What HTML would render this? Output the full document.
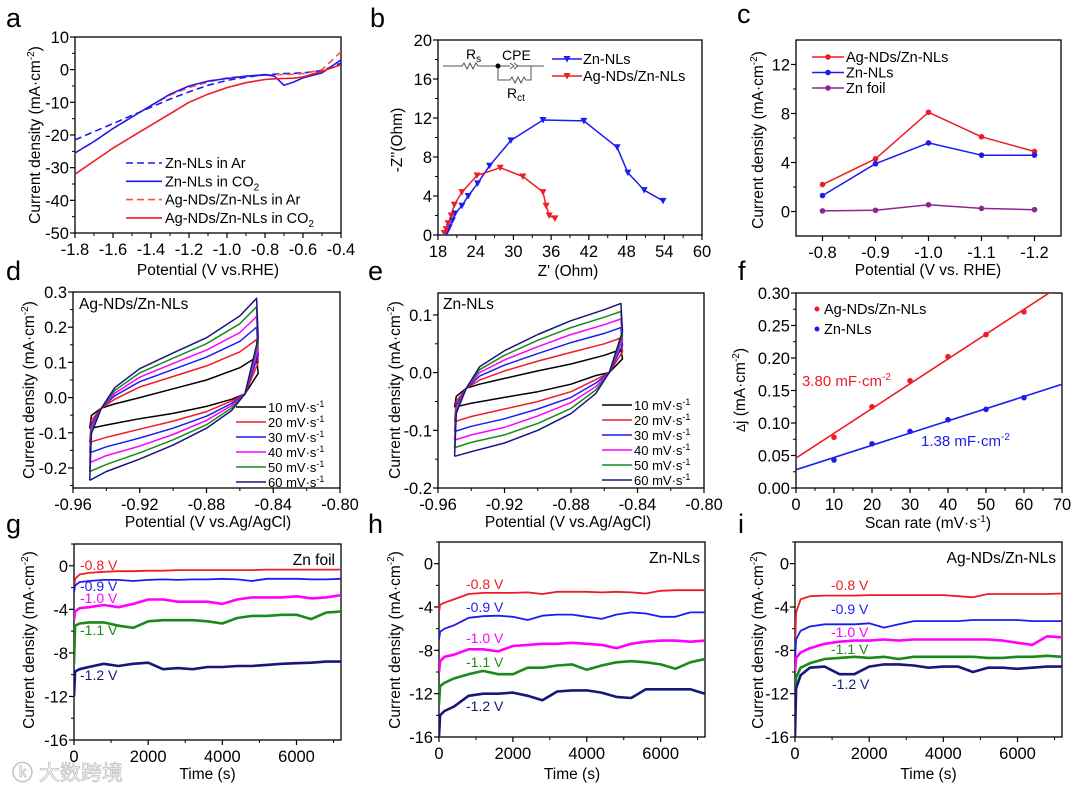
<!DOCTYPE html>
<html><head><meta charset="utf-8"><style>
html,body{margin:0;padding:0;background:#fff;}
svg{display:block;font-family:"Liberation Sans","Noto Sans CJK SC",sans-serif;}
</style></head><body>
<svg id="fig" width="1080" height="790" viewBox="0 0 1080 790"></svg>
<script>
// ---------- DATA ----------
// panel a (LSV)
const aX = [-1.8,-1.7,-1.6,-1.5,-1.4,-1.3,-1.2,-1.1,-1.0,-0.9,-0.8,-0.75,-0.7,-0.65,-0.6,-0.5,-0.4];
const aZnAr = [-21.5,-19,-16.5,-14,-11.5,-9,-6.8,-4.8,-3.3,-2.3,-1.6,-1.4,-1.2,-1.1,-1,-0.3,2];
const aZnCO2 = [-25.5,-22,-18,-14.5,-11,-7.5,-5,-3.5,-2.7,-2,-1.5,-2.0,-4.8,-3.8,-2.5,-1,3];
const aAgAr = [-25.5,-22,-18,-14.5,-11,-7.8,-5.5,-3.8,-2.5,-2,-1.7,-1.5,-1.5,-1.4,-1.2,0,5.5];
const aAgCO2 = [-32,-28,-24,-20.5,-17,-13.5,-10,-7.5,-5.5,-4,-3,-2.8,-2.7,-2.6,-2.2,-0.5,1.5];
// panel b (Nyquist)
const bZnRe = [19.2,19.5,19.8,20.3,20.7,21.8,22.8,24.3,26.2,29.6,34.7,41.2,46.5,48.2,50.8,53.8];
const bZnIm = [0.1,0.4,0.8,1.5,2.2,3,4,5.3,7.1,9.7,11.8,11.7,9,6.4,4.6,3.5];
const bAgRe = [19.0,19.3,19.6,20.1,20.6,21.8,24.2,27.9,31.5,34.7,35.2,35.7,36.6];
const bAgIm = [0.2,0.6,1.2,2,3.1,4.4,6.1,6.9,6,4.4,3,2,1.7];
// panel c
const cPot = [-0.8,-0.9,-1.0,-1.1,-1.2];
const cAg = [2.2,4.3,8.1,6.1,4.9];
const cZn = [1.3,3.9,5.6,4.6,4.6];
const cFoil = [0.05,0.1,0.55,0.25,0.15];
// panels d,e (CV)
const cvRates = ["10","20","30","40","50","60"];
const cvUpX = [-0.943,-0.935,-0.92,-0.90,-0.88,-0.86,-0.85];
const cvLoX = [-0.857,-0.865,-0.88,-0.90,-0.92,-0.94,-0.95];
const dUp = [
 [-0.03,-0.018,0.0,0.025,0.05,0.085,0.115],
 [-0.03,-0.005,0.03,0.06,0.09,0.13,0.165],
 [-0.03,0.005,0.045,0.08,0.115,0.16,0.2],
 [-0.03,0.012,0.058,0.097,0.135,0.185,0.23],
 [-0.03,0.02,0.07,0.112,0.153,0.21,0.258],
 [-0.03,0.028,0.082,0.127,0.17,0.232,0.282]];
const dLo = [
 [0.01,-0.005,-0.025,-0.045,-0.06,-0.078,-0.088],
 [0.01,-0.01,-0.04,-0.067,-0.09,-0.113,-0.127],
 [0.01,-0.017,-0.053,-0.087,-0.115,-0.14,-0.157],
 [0.01,-0.023,-0.065,-0.105,-0.138,-0.165,-0.185],
 [0.01,-0.03,-0.077,-0.12,-0.157,-0.19,-0.21],
 [0.01,-0.037,-0.087,-0.135,-0.175,-0.21,-0.235]];
const eUp = [
 [-0.027,-0.02,-0.01,0.003,0.015,0.03,0.04],
 [-0.027,-0.013,0.003,0.02,0.035,0.05,0.06],
 [-0.027,-0.006,0.013,0.033,0.052,0.068,0.078],
 [-0.027,0.0,0.022,0.045,0.066,0.083,0.093],
 [-0.027,0.005,0.03,0.056,0.078,0.096,0.106],
 [-0.027,0.01,0.038,0.066,0.09,0.109,0.12]];
const eLo = [
 [0,-0.005,-0.02,-0.033,-0.043,-0.053,-0.06],
 [0,-0.012,-0.033,-0.05,-0.063,-0.076,-0.085],
 [0,-0.018,-0.043,-0.063,-0.08,-0.093,-0.102],
 [0,-0.024,-0.052,-0.075,-0.095,-0.108,-0.117],
 [0,-0.03,-0.062,-0.088,-0.108,-0.121,-0.13],
 [0,-0.036,-0.071,-0.1,-0.122,-0.137,-0.145]];
// panel f
const fRate = [10,20,30,40,50,60];
const fAg = [0.078,0.125,0.165,0.202,0.236,0.271];
const fZn = [0.043,0.068,0.087,0.105,0.121,0.139];
// panels g,h,i (chronoamperometry)
const tTime = [0,30,150,400,800,1200,1600,2000,2400,2800,3200,3600,4000,4400,4800,5200,5600,6000,6400,6800,7200];
const tLabels = ["-0.8 V","-0.9 V","-1.0 V","-1.1 V","-1.2 V"];
const gFoil = [
 [-2,-1.2,-0.8,-0.65,-0.55,-0.5,-0.5,-0.45,-0.45,-0.4,-0.4,-0.4,-0.4,-0.4,-0.4,-0.35,-0.35,-0.35,-0.35,-0.35,-0.35],
 [-2.5,-1.8,-1.5,-1.4,-1.3,-1.3,-1.4,-1.3,-1.25,-1.3,-1.25,-1.25,-1.2,-1.25,-1.4,-1.2,-1.2,-1.2,-1.25,-1.25,-1.2],
 [-5,-4.2,-3.9,-3.8,-3.6,-3.8,-3.5,-3.1,-3.1,-3.3,-3.3,-3.3,-3.5,-3.1,-2.9,-2.9,-2.9,-2.8,-3.0,-2.9,-2.7],
 [-9,-5.5,-5.3,-5.2,-5.2,-5.5,-5.7,-5.1,-5.0,-5.0,-5.0,-5.1,-5.3,-4.8,-4.6,-4.6,-4.5,-4.5,-4.9,-4.3,-4.2],
 [-12,-9.7,-9.5,-9.3,-9.0,-9.2,-9.0,-8.9,-9.5,-9.4,-9.5,-9.3,-9.3,-9.2,-9.2,-9.1,-9.0,-8.95,-8.9,-8.8,-8.8]];
const hZn = [
 [-4.5,-3.8,-3.6,-3.3,-2.8,-2.7,-2.7,-2.7,-2.65,-2.8,-2.6,-2.6,-2.6,-2.65,-2.6,-2.65,-2.75,-2.5,-2.45,-2.45,-2.45],
 [-7,-6.3,-6.0,-5.7,-5.0,-4.85,-4.8,-4.9,-5.2,-4.8,-4.7,-4.7,-4.9,-5.1,-4.7,-4.5,-4.6,-4.9,-4.9,-4.5,-4.5],
 [-10,-9,-8.6,-8.4,-7.9,-7.9,-8.1,-7.6,-7.5,-7.4,-7.4,-7.3,-7.4,-7.5,-7.8,-7.4,-7.2,-7.1,-7.1,-7.2,-7.1],
 [-13,-11.3,-11,-10.6,-10.2,-9.9,-10.2,-10.2,-9.6,-9.6,-9.4,-9.3,-9.8,-9.4,-9.1,-9.0,-9.1,-9.3,-9.7,-9.1,-8.8],
 [-16,-14,-13.6,-13.2,-12.2,-12.0,-12.0,-11.9,-12.2,-12.6,-11.8,-11.7,-11.7,-11.9,-12.3,-12.4,-11.6,-11.6,-11.6,-11.6,-12.0]];
const iAg = [
 [-8,-4.5,-3.3,-3.0,-2.95,-2.95,-2.95,-2.9,-2.9,-2.9,-2.9,-2.9,-2.9,-3.0,-3.1,-2.8,-2.8,-2.8,-2.8,-2.8,-2.75],
 [-9,-7,-6.2,-5.8,-5.6,-5.6,-5.6,-5.5,-5.9,-5.6,-5.3,-5.3,-5.3,-5.3,-5.2,-5.2,-5.2,-5.2,-5.3,-5.3,-5.3],
 [-10,-8.7,-8.2,-7.8,-7.4,-7.2,-7.1,-7.1,-7.0,-7.1,-7.0,-7.0,-7.0,-7.0,-7.0,-7.0,-7.1,-7.3,-7.5,-6.7,-6.8],
 [-12,-10.5,-9.6,-9.2,-8.8,-8.7,-8.6,-8.7,-8.6,-8.8,-8.6,-8.6,-8.6,-8.6,-8.6,-8.7,-8.7,-8.6,-8.6,-8.5,-8.6],
 [-16,-11.5,-10.3,-9.6,-9.5,-10.2,-10.2,-9.5,-9.3,-9.3,-9.4,-9.6,-9.5,-9.5,-10.0,-9.6,-9.6,-9.7,-9.6,-9.5,-9.5]];

// ---------- HELPERS ----------
const NS = "http://www.w3.org/2000/svg";
const svg = document.getElementById("fig");
function mk(tag, attrs, parent, name) {
  const el = document.createElementNS(NS, tag);
  for (const k in attrs) el.setAttribute(k, attrs[k]);
  
  
  (parent || svg).appendChild(el);
  return el;
}
function txt(x, y, s, size, opts, name, parent) {
  const o = Object.assign({x: x, y: y, "font-size": size, fill: "#000"}, opts || {});
  const el = mk("text", o, parent, name);
  el.innerHTML = s;
  return el;
}
function scale(d0, d1, r0, r1) { return v => r0 + (v - d0) * (r1 - r0) / (d1 - d0); }
function range(a, b, s) { const r = []; for (let v = a; v <= b + 1e-9; v += s) r.push(+v.toFixed(6)); return r; }

function axes(p) {
  const g = mk("g", {}, svg, p.name);
  const sx = scale(p.xmin, p.xmax, p.x0, p.x1);
  const sy = scale(p.ymin, p.ymax, p.y1, p.y0);
  mk("rect", {x: p.x0, y: p.y0, width: p.x1 - p.x0, height: p.y1 - p.y0, fill: "none", stroke: "#000", "stroke-width": 1.3}, g, "plot-frame");
  p.xticks.forEach((v, i) => {
    const X = sx(v);
    mk("line", {x1: X, x2: X, y1: p.y1, y2: p.y1 + 5, stroke: "#000", "stroke-width": 1.2}, g, "x-tick");
    txt(X, p.y1 + 22, p.xlab[i], 16.5, {"text-anchor": "middle"}, "x-tick-label", g);
  });
  (p.xminor || []).forEach(v => {
    const X = sx(v);
    mk("line", {x1: X, x2: X, y1: p.y1, y2: p.y1 + 3, stroke: "#000", "stroke-width": 1}, g, "x-minor-tick");
  });
  p.yticks.forEach((v, i) => {
    const Y = sy(v);
    mk("line", {x1: p.x0 - 5, x2: p.x0, y1: Y, y2: Y, stroke: "#000", "stroke-width": 1.2}, g, "y-tick");
    txt(p.x0 - 6, Y + 6, p.ylab[i], 16.5, {"text-anchor": "end"}, "y-tick-label", g);
  });
  (p.yminor || []).forEach(v => {
    const Y = sy(v);
    mk("line", {x1: p.x0 - 3, x2: p.x0, y1: Y, y2: Y, stroke: "#000", "stroke-width": 1}, g, "y-minor-tick");
  });
  txt(p.xtx, p.xty, p.xtitle, 15.5, {"text-anchor": "middle"}, "x-axis-title", g);
  txt(0, 0, p.ytitle, 15.5, {"text-anchor": "middle", transform: "translate(" + p.ytx + "," + p.yty + ") rotate(-90)"}, "y-axis-title", g);
  txt(p.lx, p.ly, p.letter, 27, {}, "panel-label", g);
  const clipId = "clip" + p.letter;
  const cp = mk("clipPath", {id: clipId}, g, "clip");
  mk("rect", {x: p.x0, y: p.y0, width: p.x1 - p.x0, height: p.y1 - p.y0}, cp, "clip-rect");
  const plot = mk("g", {"clip-path": "url(#" + clipId + ")"}, g, "plot-area");
  return {sx, sy, g, plot};
}
function poly(ax, xs, ys, color, w, name, dash) {
  const pts = xs.map((x, i) => ax.sx(x).toFixed(1) + "," + ax.sy(ys[i]).toFixed(1)).join(" ");
  const o = {points: pts, fill: "none", stroke: color, "stroke-width": w, "stroke-linejoin": "round"};
  if (dash) o["stroke-dasharray"] = dash;
  return mk("polyline", o, ax.plot, name);
}
function tri(parent, X, Y, color, name) {
  mk("polygon", {points: (X - 3.5) + "," + (Y - 3) + " " + (X + 3.5) + "," + (Y - 3) + " " + X + "," + (Y + 3.5), fill: color}, parent, name);
}
function dot(parent, X, Y, color, r, name) {
  mk("circle", {cx: X, cy: Y, r: r, fill: color}, parent, name);
}
const RED = "#ee1c24", BLUE = "#1c1cf0", MAG = "#ff00ff", GRN = "#1a8a1a", NAVY = "#17177a", PUR = "#8e2590";

// ---------- PANEL A ----------
const A = axes({name: "panel-a", letter: "a", lx: 6, ly: 27, x0: 75, x1: 341, y0: 37, y1: 233,
  xmin: -1.8, xmax: -0.4, ymin: -50, ymax: 10,
  xticks: range(-1.8, -0.4, 0.2), xlab: ["-1.8","-1.6","-1.4","-1.2","-1.0","-0.8","-0.6","-0.4"],
  xminor: range(-1.7, -0.5, 0.2),
  yticks: range(-50, 10, 10), ylab: ["-50","-40","-30","-20","-10","0","10"], yminor: range(-45, 5, 10),
  xtitle: "Potential (V vs.RHE)", xtx: 208, xty: 275, ytitle: "Current density  (mA·cm<tspan font-size='10' dy='-6'>-2</tspan><tspan dy='6'>)</tspan>", ytx: 40, yty: 135});
poly(A, aX, aZnAr, BLUE, 1.6, "series-zn-nls-ar", "7,4");
poly(A, aX, aAgAr, "#ff5050", 1.6, "series-ag-nds-ar", "7,4");
poly(A, aX, aZnCO2, BLUE, 1.6, "series-zn-nls-co2");
poly(A, aX, aAgCO2, RED, 1.6, "series-ag-nds-co2");
[["Zn-NLs in Ar", BLUE, "7,4"], ["Zn-NLs in CO<tspan font-size='10' dy='4'>2</tspan>", BLUE, null],
 ["Ag-NDs/Zn-NLs in Ar", "#ff5050", "7,4"], ["Ag-NDs/Zn-NLs in CO<tspan font-size='10' dy='4'>2</tspan>", RED, null]].forEach((e, i) => {
  const y = 163 + i * 18.3;
  const o = {x1: 126, x2: 162, y1: y, y2: y, stroke: e[1], "stroke-width": 1.6};
  if (e[2]) o["stroke-dasharray"] = e[2];
  mk("line", o, A.g, "legend-line");
  txt(165, y + 5, e[0], 14.5, {}, "legend-entry", A.g);
});

// ---------- PANEL B ----------
const B = axes({name: "panel-b", letter: "b", lx: 370, ly: 27, x0: 438, x1: 702, y0: 40, y1: 235,
  xmin: 18, xmax: 60, ymin: 0, ymax: 20,
  xticks: range(18, 60, 6), xlab: ["18","24","30","36","42","48","54","60"], xminor: range(21, 57, 6),
  yticks: range(0, 20, 4), ylab: ["0","4","8","12","16","20"], yminor: range(2, 18, 4),
  xtitle: "Z' (Ohm)", xtx: 568, xty: 276, ytitle: "-Z''(Ohm)", ytx: 402, yty: 140});
poly(B, bZnRe, bZnIm, BLUE, 1.5, "series-zn-nls");
poly(B, bAgRe, bAgIm, RED, 1.5, "series-ag-nds");
bZnRe.forEach((x, i) => tri(B.plot, B.sx(x), B.sy(bZnIm[i]), BLUE, "zn-nls-point"));
bAgRe.forEach((x, i) => tri(B.plot, B.sx(x), B.sy(bAgIm[i]), RED, "ag-nds-point"));
[["Zn-NLs", BLUE], ["Ag-NDs/Zn-NLs", RED]].forEach((e, i) => {
  const y = 59 + i * 17;
  mk("line", {x1: 552, x2: 582, y1: y, y2: y, stroke: e[1], "stroke-width": 1.5}, B.g, "legend-line");
  tri(B.g, 567, y, e[1], "legend-marker");
  txt(583, y + 5, e[0], 14.5, {}, "legend-entry", B.g);
});
// circuit inset
const circ = mk("g", {stroke: "#555", "stroke-width": 1, fill: "none"}, B.g, "circuit-inset");
mk("path", {d: "M443,66 H462 l2,-3 l3,6 l3,-6 l3,6 l3,-6 l2,3 H498 M498,66 H510 m0,-3 l4,3 l-4,3 m4,-6 l4,3 l-4,3 M518,66 H544 M498,66 V80 H510 l2,-3 l3,6 l3,-6 l3,6 l3,-6 l2,3 H531 V66"}, circ, "circuit-path");
dot(B.g, 498, 66, "#000", 2.5, "circuit-node");
txt(466, 59, "R<tspan font-size='10' dy='3'>s</tspan>", 14, {}, "rs-label", B.g);
txt(502, 60, "CPE", 14, {}, "cpe-label", B.g);
txt(507, 98, "R<tspan font-size='10' dy='3'>ct</tspan>", 14, {}, "rct-label", B.g);

// ---------- PANEL C ----------
const C = axes({name: "panel-c", letter: "c", lx: 737, ly: 23, x0: 796, x1: 1061, y0: 40, y1: 236,
  xmin: -0.75, xmax: -1.25, ymin: -2, ymax: 14,
  xticks: cPot, xlab: ["-0.8","-0.9","-1.0","-1.1","-1.2"], xminor: [-0.85,-0.95,-1.05,-1.15],
  yticks: [0,4,8,12], ylab: ["0","4","8","12"], yminor: [2,6,10],
  xtitle: "Potential (V vs. RHE)", xtx: 928, xty: 275, ytitle: "Current density (mA·cm<tspan font-size='10' dy='-6'>-2</tspan><tspan dy='6'>)</tspan>", ytx: 763, yty: 140});
[[cAg, RED, "series-ag-nds"], [cZn, BLUE, "series-zn-nls"], [cFoil, PUR, "series-zn-foil"]].forEach(s => {
  poly(C, cPot, s[0], s[1], 1.5, s[2]);
  cPot.forEach((x, i) => dot(C.plot, C.sx(x), C.sy(s[0][i]), s[1], 2.8, s[2] + "-point"));
});
[["Ag-NDs/Zn-NLs", RED], ["Zn-NLs", BLUE], ["Zn foil", PUR]].forEach((e, i) => {
  const y = 57 + i * 15.5;
  mk("line", {x1: 812, x2: 844, y1: y, y2: y, stroke: e[1], "stroke-width": 1.5}, C.g, "legend-line");
  dot(C.g, 828, y, e[1], 2.8, "legend-marker");
  txt(846, y + 5, e[0], 14.5, {}, "legend-entry", C.g);
});

// ---------- PANELS D, E ----------
const cvColors = ["#000", RED, BLUE, MAG, GRN, NAVY];
function cvPanel(ax, up, lo, legX, legY) {
  up.forEach((u, k) => {
    const xs = [-0.95, -0.949].concat(cvUpX).concat([-0.849]).concat(cvLoX);
    const ys = [lo[k][lo[k].length - 1], lo[k][lo[k].length - 1] * 0.35 - 0.02].concat(u).concat([u[u.length - 1] * 0.6]).concat(lo[k]);
    poly(ax, xs, ys, cvColors[k], 1.5, "cv-" + cvRates[k] + "-mv");
  });
  cvRates.forEach((r, k) => {
    const y = legY + k * 15;
    mk("line", {x1: legX, x2: legX + 30, y1: y, y2: y, stroke: cvColors[k], "stroke-width": 1.6}, ax.g, "legend-line");
    txt(legX + 32, y + 5, r + " mV·s<tspan font-size='9' dy='-5'>-1</tspan>", 13, {}, "legend-entry", ax.g);
  });
}
const D = axes({name: "panel-d", letter: "d", lx: 6, ly: 280, x0: 73, x1: 340, y0: 292, y1: 488,
  xmin: -0.96, xmax: -0.80, ymin: -0.257, ymax: 0.3,
  xticks: range(-0.96, -0.80, 0.04), xlab: ["-0.96","-0.92","-0.88","-0.84","-0.80"], xminor: [-0.94,-0.90,-0.86,-0.82],
  yticks: [-0.2,-0.1,0,0.1,0.2,0.3], ylab: ["-0.2","-0.1","0.0","0.1","0.2","0.3"], yminor: [-0.25,-0.15,-0.05,0.05,0.15,0.25],
  xtitle: "Potential (V vs.Ag/AgCl)", xtx: 208, xty: 527, ytitle: "Current density  (mA·cm<tspan font-size='10' dy='-6'>-2</tspan><tspan dy='6'>)</tspan>", ytx: 34, yty: 390});
txt(79, 309, "Ag-NDs/Zn-NLs", 15.5, {}, "sample-label", D.g);
cvPanel(D, dUp, dLo, 236, 407);
const E = axes({name: "panel-e", letter: "e", lx: 368, ly: 280, x0: 438, x1: 704, y0: 293, y1: 488,
  xmin: -0.96, xmax: -0.80, ymin: -0.2, ymax: 0.138,
  xticks: range(-0.96, -0.80, 0.04), xlab: ["-0.96","-0.92","-0.88","-0.84","-0.80"], xminor: [-0.94,-0.90,-0.86,-0.82],
  yticks: [-0.2,-0.1,0,0.1], ylab: ["-0.2","-0.1","0.0","0.1"], yminor: [-0.15,-0.05,0.05],
  xtitle: "Potential (V vs.Ag/AgCl)", xtx: 568, xty: 527, ytitle: "Current density  (mA·cm<tspan font-size='10' dy='-6'>-2</tspan><tspan dy='6'>)</tspan>", ytx: 400, yty: 390});
txt(443, 309, "Zn-NLs", 15.5, {}, "sample-label", E.g);
cvPanel(E, eUp, eLo, 602, 405);

// ---------- PANEL F ----------
const F = axes({name: "panel-f", letter: "f", lx: 738, ly: 280, x0: 796, x1: 1062, y0: 293, y1: 488,
  xmin: 0, xmax: 70, ymin: 0, ymax: 0.3,
  xticks: range(0, 70, 10), xlab: ["0","10","20","30","40","50","60","70"], xminor: range(5, 65, 10),
  yticks: range(0, 0.3, 0.05), ylab: ["0.00","0.05","0.10","0.15","0.20","0.25","0.30"], yminor: range(0.025, 0.275, 0.05),
  xtitle: "Scan rate (mV·s<tspan font-size='10' dy='-6'>-1</tspan><tspan dy='6'>)</tspan>", xtx: 928, xty: 528, ytitle: "<tspan font-size='12'>Δ</tspan>j (mA·cm<tspan font-size='10' dy='-6'>-2</tspan><tspan dy='6'>)</tspan>", ytx: 745, yty: 390});
function fit(xs, ys) {
  const n = xs.length, mx = xs.reduce((a, b) => a + b) / n, my = ys.reduce((a, b) => a + b) / n;
  let sxy = 0, sxx = 0;
  xs.forEach((x, i) => { sxy += (x - mx) * (ys[i] - my); sxx += (x - mx) * (x - mx); });
  const m = sxy / sxx; return [my - m * mx, m];
}
[[fAg, RED, "series-ag-nds"], [fZn, BLUE, "series-zn-nls"]].forEach(s => {
  const [b0, m] = fit(fRate, s[0]);
  poly(F, [0, 70], [b0, b0 + 70 * m], s[1], 1.6, s[2] + "-fit");
  fRate.forEach((x, i) => dot(F.plot, F.sx(x), F.sy(s[0][i]), s[1], 2.8, s[2] + "-point"));
});
[["Ag-NDs/Zn-NLs", RED], ["Zn-NLs", BLUE]].forEach((e, i) => {
  const y = 309 + i * 20;
  dot(F.g, 817, y, e[1], 2.5, "legend-marker");
  txt(824, y + 5, e[0], 14.5, {}, "legend-entry", F.g);
});
txt(802, 386, "3.80 mF·cm<tspan font-size='10' dy='-6'>-2</tspan>", 15, {fill: RED}, "ag-capacitance-label", F.g);
txt(921, 446, "1.38 mF·cm<tspan font-size='10' dy='-6'>-2</tspan>", 15, {fill: BLUE}, "zn-capacitance-label", F.g);

// ---------- PANELS G, H, I ----------
const ctColors = [RED, BLUE, MAG, GRN, NAVY];
function ctPanel(letter, lx, x0, x1, y0, y1, ytx, series, sample, sampX, labPos) {
  const ax = axes({name: "panel-" + letter, letter: letter, lx: lx, ly: 533, x0: x0, x1: x1, y0: y0, y1: y1,
    xmin: 0, xmax: 7200, ymin: -16, ymax: 2,
    xticks: [0,2000,4000,6000], xlab: ["0","2000","4000","6000"], xminor: [1000,3000,5000,7000],
    yticks: [-16,-12,-8,-4,0], ylab: ["-16","-12","-8","-4","0"], yminor: [-14,-10,-6,-2,2],
    xtitle: "Time (s)", xtx: (x0 + x1) / 2, xty: 779, ytitle: "Current density (mA·cm<tspan font-size='10' dy='-6'>-2</tspan><tspan dy='6'>)</tspan>", ytx: ytx, yty: 640});
  series.forEach((s, k) => poly(ax, tTime, s, ctColors[k], k >= 2 ? 2.6 : 1.8, "series-" + tLabels[k].replace(" ", "").replace(".", "")));
  tLabels.forEach((l, k) => txt(labPos[k][0], labPos[k][1], l, 14, {fill: ctColors[k]}, "potential-label", ax.g));
  txt(sampX, y0 + 21, sample, 15.5, {"text-anchor": "end"}, "sample-label", ax.g);
  return ax;
}
ctPanel("g", 6, 74, 341, 544, 740, 34, gFoil, "Zn foil", 335, [[80,570],[80,591],[80,603],[80,635],[80,680]]);
ctPanel("h", 368, 439, 705, 542, 737, 400, hZn, "Zn-NLs", 700, [[466,589],[466,612],[466,643],[466,667],[466,711]]);
ctPanel("i", 738, 795, 1062, 542, 737, 763, iAg, "Ag-NDs/Zn-NLs", 1056, [[831,590],[831,614],[831,637],[831,654],[832,689]]);

// watermark
txt(12, 780, "ⓚ 大数跨境", 21, {fill: "#ffffff", stroke: "#bbbbbb", "stroke-width": 0.8, opacity: 0.9}, "watermark", svg);
</script>
</body></html>
